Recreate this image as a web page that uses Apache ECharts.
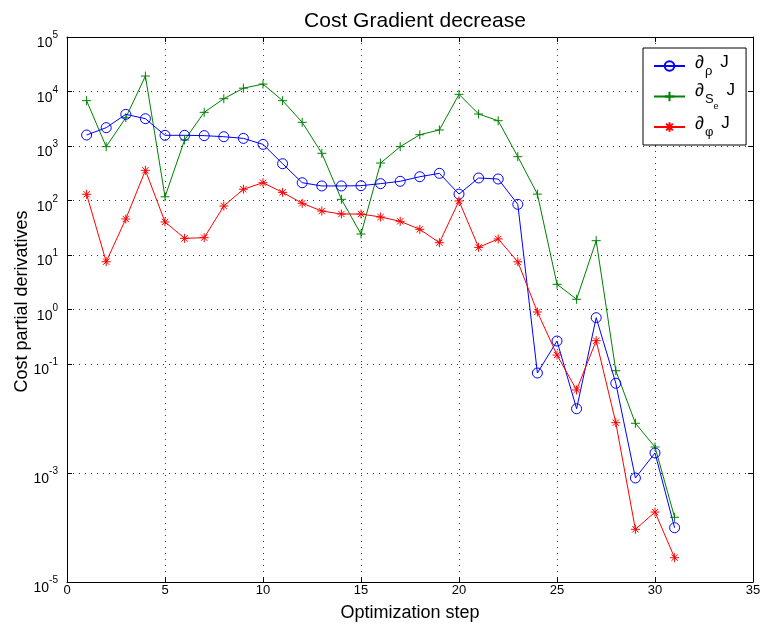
<!DOCTYPE html>
<html><head><meta charset="utf-8">
<script src="https://cdn.jsdelivr.net/npm/echarts@6/dist/echarts.min.js"></script>
<style>html,body{margin:0;padding:0;background:#fff}#c{width:762px;height:627px}</style>
</head><body><div id="c"></div>
<script>
const steps = [1,2,3,4,5,6,7,8,9,10,11,12,13,14,15,16,17,18,19,20,21,22,23,24,25,26,27,28,29,30,31];
const dRho = [1590,2170,3810,3170,1570,1570,1550,1480,1380,1070,473,212,185,185,187,204,225,273,315,131,259,248,85,0.0684,0.264,0.0151,0.708,0.0443,8.1e-4,2.33e-3,9.9e-5];
const dSe = [6790,972,3310,19200,117,1290,4150,7380,11500,13700,6790,2720,735,105,24.3,487,972,1610,1970,8870,3860,2910,637,131,2.90,1.54,18.3,0.0753,8.17e-3,3.0e-3,1.54e-4];
const dPhi = [130,7.53,45.8,358,40.4,20.2,20.8,79.2,161,212,141,88.9,64.1,56.5,56.5,49.8,41.5,29.6,16.8,98,13.8,19.7,7.5,0.90,0.146,0.0334,0.268,8.38e-3,9.26e-5,1.92e-4,2.79e-5];
const xTicks = [0,5,10,15,20,25,30,35];
const yTickValues = [1e-5,1e-3,1e-1,1,10,100,1000,10000,100000];
const seriesNames = ['rho','se','phi'];
const legendLabels = {
  rho: '{d|∂}{s|ρ}{j|J}',
  se: '{d|∂}{s|S}{ss|e}{j|J}',
  phi: '{d|∂}{s|φ}{j|J}'
};

const FONT = 'Liberation Sans, Arial, Helvetica, sans-serif';
const chart = echarts.init(document.getElementById('c'), null, {renderer:'canvas'});
const pair = arr => steps.map((s,i)=>[s, arr[i]]);
const grid = {left:67, right:9, top:37, bottom:45, show:false, containLabel:false, outerBoundsMode:'none'};
const dotted = {show:true, lineStyle:{color:'#333', type:[1,5], width:1}};
const expFmt = v => { const e = Math.round(Math.log10(v)); return '{b|10}{e|' + e + '}'; };

const option = {
  animation:false,
  backgroundColor:'#fff',
  textStyle:{fontFamily:FONT},
  title:{text:'Cost Gradient decrease', left:410, textAlign:'center', top:6,
    textStyle:{fontSize:21, fontWeight:'normal', color:'#000', fontFamily:FONT}},
  grid:grid,
  legend:{
    orient:'vertical', left:643, top:48, data:seriesNames,
    borderColor:'#000', borderWidth:1, padding:[6,11,6,10],
    itemWidth:31, itemHeight:12, itemGap:4,
    backgroundColor:'#fff',
    formatter: n => legendLabels[n],
    textStyle:{color:'#000', fontFamily:FONT, fontSize:16,
      rich:{
        d:{fontSize:18, fontFamily:FONT, color:'#000', verticalAlign:'top', lineHeight:20, padding:[0,0,0,5]},
        j:{fontSize:17, fontFamily:FONT, color:'#000', verticalAlign:'top', lineHeight:20, padding:[0,0,0,8]},
        s:{fontSize:13, fontFamily:FONT, color:'#000', verticalAlign:'top', padding:[11,0,0,1]},
        ss:{fontSize:9, fontFamily:FONT, color:'#000', verticalAlign:'top', padding:[20,0,0,0]}
      }}
  },
  xAxis:[
    {type:'value', min:0, max:35, interval:5, position:'bottom',
     axisLine:{show:true, onZero:false, lineStyle:{color:'#000', width:1}},
     axisTick:{show:true, inside:true, length:5, lineStyle:{color:'#000'}},
     axisLabel:{color:'#000', fontSize:13, margin:2, fontFamily:FONT},
     splitLine:dotted,
     name:'Optimization step', nameLocation:'middle', nameGap:22, nameMoveOverlap:false,
     nameTextStyle:{fontSize:18, color:'#000', fontFamily:FONT}},
    {type:'value', min:0, max:35, interval:5, position:'top',
     axisLine:{show:true, onZero:false, lineStyle:{color:'#000', width:1}},
     axisTick:{show:true, inside:true, length:5, lineStyle:{color:'#000'}},
     axisLabel:{show:false}, splitLine:{show:false}}
  ],
  yAxis:[
    {type:'log', logBase:10, min:1e-5, max:1e5, position:'left',
     axisLine:{show:true, onZero:false, lineStyle:{color:'#000', width:1}},
     axisTick:{show:true, inside:true, length:5, lineStyle:{color:'#000'}, customValues:yTickValues},
     axisLabel:{customValues:yTickValues, formatter:expFmt, color:'#000', margin:9, padding:[7,0,0,0],
       rich:{b:{fontSize:14, fontFamily:FONT, color:'#000', verticalAlign:'bottom'},
             e:{fontSize:10, fontFamily:FONT, color:'#000', verticalAlign:'bottom', padding:[0,0,10,0]}}},
     splitLine:dotted,
     name:'Cost partial derivatives', nameLocation:'middle', nameGap:36, nameMoveOverlap:false,
     nameTextStyle:{fontSize:18, color:'#000', fontFamily:FONT, padding:[0,0,0,16]}},
    {type:'log', logBase:10, min:1e-5, max:1e5, position:'right',
     axisLine:{show:true, onZero:false, lineStyle:{color:'#000', width:1}},
     axisTick:{show:true, inside:true, length:5, lineStyle:{color:'#000'}, customValues:yTickValues},
     axisLabel:{show:false}, splitLine:{show:false}}
  ],
  series:[
    {name:'rho', type:'line', data:pair(dRho), symbol:'circle', symbolSize:10,
     lineStyle:{color:'#0000ff', width:1}, itemStyle:{color:'rgba(255,255,255,0)', borderColor:'#0000ff', borderWidth:1},
     emphasis:{disabled:true}, z:3},
    {name:'se', type:'line', data:pair(dSe), symbol:'path://M0,5L10,5M5,0L5,10', symbolSize:9,
     lineStyle:{color:'#008000', width:1}, itemStyle:{color:'#008000', borderColor:'#008000', borderWidth:1},
     emphasis:{disabled:true}, z:2},
    {name:'phi', type:'line', data:pair(dPhi), symbol:'path://M0,5L10,5M5,0L5,10M1.5,1.5L8.5,8.5M1.5,8.5L8.5,1.5', symbolSize:9,
     lineStyle:{color:'#ff0000', width:1}, itemStyle:{color:'#ff0000', borderColor:'#ff0000', borderWidth:1},
     emphasis:{disabled:true}, z:4}
  ]
};
chart.setOption(option);
</script>
</body></html>
